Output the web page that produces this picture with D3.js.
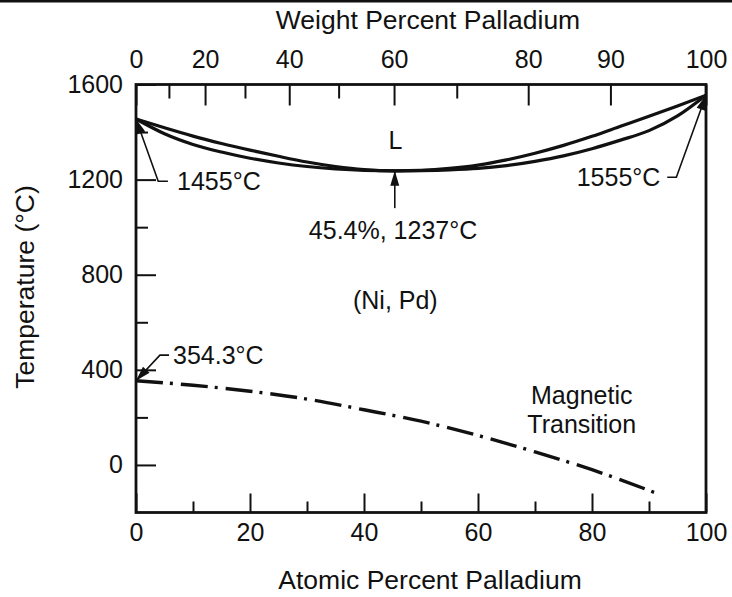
<!DOCTYPE html>
<html>
<head>
<meta charset="utf-8">
<script src="https://cdn.jsdelivr.net/npm/d3@7"></script>
<style>
  html, body { margin: 0; padding: 0; background: #fff; }
  svg { display: block; font-family: "Liberation Sans", Arial, Helvetica, sans-serif; }
  .axis text { font-size: 25px; fill: #111; }
  .axis line { stroke: #111; stroke-width: 2; }
  .lbl { font-size: 25px; fill: #111; }
  .title { font-size: 26.5px; fill: #111; }
</style>
</head>
<body>
<svg id="chart" width="732" height="597"></svg>
<script>
// Ni–Pd phase diagram

// Atomic weights used to relate the atomic-% and weight-% scales
const atomicWeightNi = 58.69;
const atomicWeightPd = 106.42;

// Bottom axis (atomic percent Pd)
const atomicMajorTicks = [0, 20, 40, 60, 80, 100];
const atomicMinorTicks = [10, 30, 50, 70, 90];

// Top axis (weight percent Pd)
const weightMajorTicks = [0, 20, 40, 60, 80, 90, 100];
const weightMinorTicks = [10, 30, 50, 70];

// Temperature axis (°C)
const tempMajorTicks = [0, 400, 800, 1200, 1600];
const tempMinorTicks = [200, 600, 1000, 1400];

// Liquidus / solidus (atomic % Pd, °C)
const composition = [0, 5, 10, 15, 20, 25, 30, 35, 40, 45.4, 50, 55, 60, 65, 70, 75, 80, 85, 90, 95, 100];
const liquidusTemp = [1455, 1418, 1383, 1352, 1324, 1298, 1274, 1255, 1242, 1237, 1239, 1247, 1261, 1283, 1311, 1344, 1382, 1424, 1466, 1510, 1555];
const solidusTemp  = [1455, 1393, 1348, 1316, 1290, 1270, 1255, 1245, 1239, 1237, 1238, 1241, 1247, 1259, 1277, 1300, 1330, 1366, 1406, 1468, 1555];

// Magnetic transition (Curie temperature)
const magneticComposition = [0, 10, 20, 30, 40, 50, 60, 70, 80, 91];
const magneticTemp = [354.3, 335, 310, 277, 232, 184, 124, 55, -20, -116];

const svg = d3.select("#chart");
const W = 732;

const x = d3.scaleLinear().domain([0, 100]).range([136, 706]);
const y = d3.scaleLinear().domain([-200, 1600]).range([512.5, 84.5]);

// weight % Pd -> atomic % Pd
function wtToAt(w) {
  const pd = w / atomicWeightPd, ni = (100 - w) / atomicWeightNi;
  return 100 * pd / (pd + ni);
}

// rule across the top of the page
svg.append("rect").attr("x", 0).attr("y", 0).attr("width", W).attr("height", 2.5).attr("fill", "#111");

// ---- axes ----
const gBottom = svg.append("g").attr("class", "axis").attr("transform", `translate(0,${y(-200)})`);
gBottom.call(d3.axisBottom(x).tickValues(atomicMajorTicks).tickSizeInner(-19).tickSizeOuter(0).tickPadding(11).tickFormat(d3.format("d")));
gBottom.append("g").call(d3.axisBottom(x).tickValues(atomicMinorTicks).tickSizeInner(-11).tickSizeOuter(0).tickFormat(""));

const gTop = svg.append("g").attr("class", "axis").attr("transform", `translate(0,${y(1600)})`);
gTop.call(d3.axisTop(x).tickValues(weightMajorTicks.map(wtToAt)).tickSizeInner(-21).tickSizeOuter(0).tickPadding(17)
  .tickFormat((d, i) => weightMajorTicks[i]));
gTop.append("g").call(d3.axisTop(x).tickValues(weightMinorTicks.map(wtToAt)).tickSizeInner(-14).tickSizeOuter(0).tickFormat(""));

const gLeft = svg.append("g").attr("class", "axis").attr("transform", `translate(${x(0)},0)`);
gLeft.call(d3.axisLeft(y).tickValues(tempMajorTicks).tickSizeInner(-20).tickSizeOuter(0).tickPadding(13).tickFormat(d3.format("d")));
gLeft.append("g").call(d3.axisLeft(y).tickValues(tempMinorTicks).tickSizeInner(-12).tickSizeOuter(0).tickFormat(""));

svg.selectAll(".axis .domain").remove();

// plot frame
svg.append("rect")
  .attr("x", x(0)).attr("y", y(1600))
  .attr("width", x(100) - x(0)).attr("height", y(-200) - y(1600))
  .attr("fill", "none").attr("stroke", "#111").attr("stroke-width", 2.8);

// axis titles
svg.append("text").attr("class", "title").attr("x", 428).attr("y", 29).attr("text-anchor", "middle").text("Weight Percent Palladium");
svg.append("text").attr("class", "title").attr("x", 430).attr("y", 589).attr("text-anchor", "middle").text("Atomic Percent Palladium");
svg.append("text").attr("class", "title").attr("text-anchor", "middle")
  .attr("transform", `translate(34,287) rotate(-90)`).text("Temperature (°C)");

// ---- phase boundaries ----
const line = d3.line().curve(d3.curveMonotoneX);
svg.append("path")
  .attr("d", line(composition.map((c, i) => [x(c), y(liquidusTemp[i])])))
  .attr("fill", "none").attr("stroke", "#111").attr("stroke-width", 3.2);
svg.append("path")
  .attr("d", line(composition.map((c, i) => [x(c), y(solidusTemp[i])])))
  .attr("fill", "none").attr("stroke", "#111").attr("stroke-width", 3.2);

svg.append("path")
  .attr("d", line(magneticComposition.map((c, i) => [x(c), y(magneticTemp[i])])))
  .attr("fill", "none").attr("stroke", "#111").attr("stroke-width", 3.4)
  .attr("stroke-dasharray", "27 7 3 8");

// ---- annotations ----
function arrowHead(tip, from) {
  const dx = tip[0] - from[0], dy = tip[1] - from[1];
  const len = Math.hypot(dx, dy), ux = dx / len, uy = dy / len;
  const L = 15, hw = 4.5;
  const bx = tip[0] - ux * L, by = tip[1] - uy * L;
  return `M${tip[0]},${tip[1]}L${bx - uy * hw},${by + ux * hw}L${bx + uy * hw},${by - ux * hw}Z`;
}
function leader(points) {
  const p = points.map(([c, t]) => [x(c), y(t)]);
  svg.append("path").attr("d", d3.line()(p)).attr("fill", "none").attr("stroke", "#111").attr("stroke-width", 1.6);
  const tip = p[p.length - 1], from = p[p.length - 2];
  svg.append("path").attr("d", arrowHead(tip, from)).attr("fill", "#111");
}

// pure Ni melting point
leader([[5.6, 1193], [3.9, 1193], [0, 1455]]);
svg.append("text").attr("class", "lbl").attr("x", x(7.2)).attr("y", y(1193)).attr("dy", "0.35em").text("1455°C");

// pure Pd melting point
leader([[93.2, 1210], [94.8, 1210], [100, 1555]]);
svg.append("text").attr("class", "lbl").attr("x", x(92)).attr("y", y(1210)).attr("dy", "0.35em").attr("text-anchor", "end").text("1555°C");

// congruent minimum
leader([[45.4, 1080], [45.4, 1237]]);
svg.append("text").attr("class", "lbl").attr("x", x(45.1)).attr("y", y(987)).attr("dy", "0.35em").attr("text-anchor", "middle").text("45.4%, 1237°C");

// Curie point of Ni
leader([[5.8, 462], [4.2, 462], [0, 354.3]]);
svg.append("text").attr("class", "lbl").attr("x", x(6.5)).attr("y", y(462)).attr("dy", "0.35em").text("354.3°C");

// phase field labels
svg.append("text").attr("class", "lbl").attr("x", x(45.5)).attr("y", y(1365)).attr("dy", "0.35em").attr("text-anchor", "middle").text("L");
svg.append("text").attr("class", "lbl").attr("x", x(45.5)).attr("y", y(693)).attr("dy", "0.35em").attr("text-anchor", "middle").text("(Ni, Pd)");
svg.append("text").attr("class", "lbl").attr("x", x(78.2)).attr("y", y(294)).attr("dy", "0.35em").attr("text-anchor", "middle").text("Magnetic");
svg.append("text").attr("class", "lbl").attr("x", x(78.2)).attr("y", y(172)).attr("dy", "0.35em").attr("text-anchor", "middle").text("Transition");
</script>
</body>
</html>
